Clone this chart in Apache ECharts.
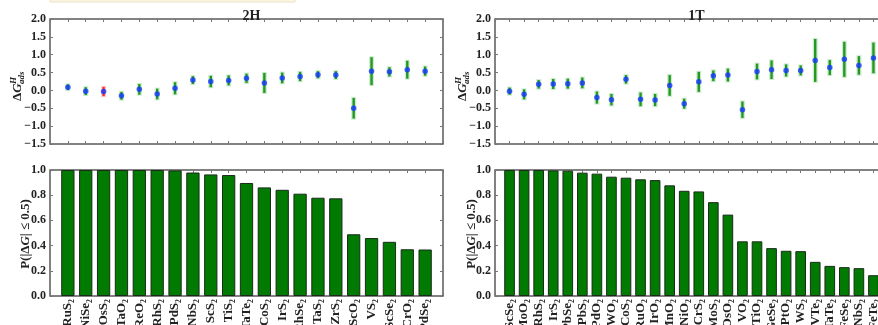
<!DOCTYPE html>
<html><head><meta charset="utf-8">
<script src="https://cdn.jsdelivr.net/npm/echarts@6/dist/echarts.min.js"></script>
<style>html,body{margin:0;padding:0;background:#fff}#c{width:878px;height:325px}</style>
</head><body><div id="c"></div>
<script>
// ---- data ----
const titles = ['2H', '1T'];
const cats2H = ['RuS₂','NiSe₂','OsS₂','TaO₂','ReO₂','RhS₂','PdS₂','NbS₂','ScS₂','TiS₂','TaTe₂','CoS₂','IrS₂','RhSe₂','TaS₂','ZrS₂','ScO₂','VS₂','ScSe₂','CrO₂','PdSe₂'];
const dG2H  = [0.09,-0.02,-0.03,-0.15,0.03,-0.10,0.06,0.29,0.25,0.28,0.34,0.21,0.35,0.39,0.44,0.43,-0.50,0.54,0.52,0.58,0.54];
const err2H = [0.08,0.11,0.13,0.11,0.15,0.15,0.17,0.11,0.16,0.14,0.13,0.28,0.15,0.13,0.10,0.11,0.29,0.39,0.13,0.25,0.13];
const prob2H = [1.0,1.0,1.0,1.0,1.0,1.0,0.997,0.98,0.965,0.96,0.897,0.862,0.843,0.812,0.78,0.775,0.49,0.46,0.43,0.371,0.369];
const highlight2H = [2];
const cats1T = ['ScSe₂','MoO₂','RhS₂','IrS₂','PbSe₂','PbS₂','PdO₂','WO₂','CoS₂','RuO₂','IrO₂','MnO₂','NiO₂','CrS₂','MoS₂','OsO₂','VO₂','TiO₂','GeSe₂','PtO₂','WS₂','VTe₂','TaTe₂','FeSe₂','NbS₂','FeTe₂'];
const dG1T  = [-0.02,-0.11,0.17,0.18,0.19,0.21,-0.20,-0.26,0.31,-0.25,-0.27,0.14,-0.37,0.24,0.41,0.43,-0.54,0.53,0.58,0.56,0.56,0.84,0.64,0.87,0.70,0.91];
const err1T = [0.10,0.14,0.12,0.14,0.14,0.15,0.17,0.16,0.12,0.19,0.17,0.29,0.14,0.28,0.15,0.18,0.23,0.22,0.26,0.17,0.14,0.60,0.21,0.49,0.26,0.43];
const prob1T = [1.0,1.0,1.0,0.997,0.995,0.979,0.971,0.947,0.939,0.926,0.92,0.878,0.835,0.83,0.745,0.646,0.434,0.434,0.38,0.359,0.356,0.271,0.239,0.229,0.221,0.165];
const highlight1T = [];
const topAxis = {min: -1.5, max: 2.0, interval: 0.5};
const botAxis = {min: 0, max: 1.0, interval: 0.2};

// ---- styles / layout ----
const SERIF = '"Liberation Serif", "DejaVu Serif", serif';
const TXT = '#222';
const FRAME = '#5a5a5a';
const panelW = 393;
const lefts = [50, 495];
const topRow = {top: 19, height: 125};
const botRow = {top: 170, height: 126};

const sets = [
  {cats: cats2H, dG: dG2H, err: err2H, prob: prob2H, hi: highlight2H},
  {cats: cats1T, dG: dG1T, err: err1T, prob: prob1T, hi: highlight1T}
];

const grids = [], xAxes = [], yAxes = [], series = [];
const fmtY = v => (Math.round(v * 10) / 10).toFixed(1).replace('-', '−');

function addGrid(left, row, n, cats, yCfg, showXLabels) {
  const g = grids.length;
  grids.push({left: left, top: row.top, width: panelW, height: row.height, show: true,
    borderColor: FRAME, borderWidth: 1.5, backgroundColor: 'transparent',
    containLabel: false, outerBoundsMode: 'none'});
  const tick = {show: true, inside: true, length: 3, lineStyle: {color: '#777', width: 1}};
  ['bottom', 'top'].forEach(pos => {
    xAxes.push({type: 'value', gridIndex: g, position: pos, min: -1, max: n, interval: 1,
      axisLine: {show: false, onZero: false}, splitLine: {show: false}, axisTick: tick,
      axisLabel: (pos === 'bottom' && showXLabels) ? {show: true, rotate: 90, margin: 3,
        fontFamily: SERIF, fontWeight: 'bold', fontSize: 13, color: TXT,
        formatter: v => (v >= 0 && v < n) ? cats[v] : ''} : {show: false}});
  });
  ['left', 'right'].forEach(pos => {
    yAxes.push({type: 'value', gridIndex: g, position: pos, min: yCfg.min, max: yCfg.max, interval: yCfg.interval,
      axisLine: {show: false, onZero: false}, splitLine: {show: false}, axisTick: tick,
      axisLabel: pos === 'left' ? {show: true, margin: 4, fontFamily: SERIF, fontWeight: 'bold',
        fontSize: 12, color: TXT, formatter: fmtY} : {show: false}});
  });
  return g;
}

sets.forEach((s, p) => {
  const n = s.cats.length;
  const gTop = addGrid(lefts[p], topRow, n, s.cats, topAxis, false);
  const gBot = addGrid(lefts[p], botRow, n, s.cats, botAxis, true);
  const unit = panelW / (n + 1);
  // error bars
  series.push({type: 'custom', xAxisIndex: 2 * gTop, yAxisIndex: 2 * gTop, z: 2,
    data: s.dG.map((v, i) => [i, v - s.err[i], v + s.err[i]]),
    renderItem: (params, api) => {
      const i = api.value(0);
      const a = api.coord([i, api.value(1)]);
      const b = api.coord([i, api.value(2)]);
      const red = s.hi.indexOf(i) >= 0;
      const col = red ? '#ff2a2a' : '#229a22';
      const halo = red ? 'rgba(255,80,80,0.28)' : 'rgba(60,170,60,0.25)';
      return {type: 'group', children: [
        {type: 'line', shape: {x1: a[0], y1: a[1] + 1, x2: b[0], y2: b[1] - 1}, style: {stroke: halo, lineWidth: 5}},
        {type: 'line', shape: {x1: a[0], y1: a[1], x2: b[0], y2: b[1]}, style: {stroke: col, lineWidth: 2.4}}
      ]};
    }});
  // points
  series.push({type: 'scatter', xAxisIndex: 2 * gTop, yAxisIndex: 2 * gTop, z: 3,
    symbol: 'circle', symbolSize: 5.5, itemStyle: {color: '#1438ff'},
    data: s.dG.map((v, i) => [i, v])});
  // bars
  series.push({type: 'bar', xAxisIndex: 2 * gBot, yAxisIndex: 2 * gBot,
    barWidth: unit * 0.8 - 1,
    itemStyle: {color: '#007a00', borderColor: '#1c2a1c', borderWidth: 1},
    data: s.prob.map((v, i) => [i, v])});
});

// axis titles and panel titles
const graphic = [];
function dGLabel(x, y) {
  return {type: 'group', x: x, y: y, rotation: Math.PI / 2, children: [
    {type: 'text', x: 0, y: 0, style: {text: '{a|Δ}{b|G}', verticalAlign: 'middle', align: 'left',
      rich: {a: {fontFamily: SERIF, fontWeight: 'bold', fontSize: 13, fill: TXT},
             b: {fontFamily: SERIF, fontWeight: 'bold', fontStyle: 'italic', fontSize: 13, fill: TXT}}}},
    {type: 'text', x: 17, y: -4, style: {text: 'H', fontFamily: SERIF, fontWeight: 'bold', fontStyle: 'italic',
      fontSize: 9, fill: TXT, verticalAlign: 'middle', align: 'left'}},
    {type: 'text', x: 17, y: 4, style: {text: 'ads', fontFamily: SERIF, fontWeight: 'bold', fontStyle: 'italic',
      fontSize: 9, fill: TXT, verticalAlign: 'middle', align: 'left'}}
  ]};
}
function pLabel(x, y) {
  return {type: 'text', x: x, y: y, rotation: Math.PI / 2, style: {
    text: 'P(|Δ{i|G}| ≤ 0.5)', align: 'center', verticalAlign: 'middle',
    fontFamily: SERIF, fontWeight: 'bold', fontSize: 13, fill: TXT,
    rich: {i: {fontFamily: SERIF, fontWeight: 'bold', fontStyle: 'italic', fontSize: 13, fill: TXT}}}};
}
graphic.push(dGLabel(18, 101), dGLabel(463, 101), pLabel(26, 234), pLabel(472, 234));
graphic.push({type: 'rect', shape: {x: 50, y: -2, width: 245, height: 4}, style: {fill: '#fbf6e4', stroke: '#ece4c4', lineWidth: 1}});

const option = {
  animation: false,
  backgroundColor: '#fff',
  title: titles.map((t, p) => ({text: t, left: lefts[p] + panelW / 2, top: 4, textAlign: 'center',
    textStyle: {fontFamily: SERIF, fontWeight: 'bold', fontSize: 14, color: TXT}})),
  grid: grids, xAxis: xAxes, yAxis: yAxes, series: series, graphic: graphic
};
const chart = echarts.init(document.getElementById('c'), null, {renderer: 'canvas'});
chart.setOption(option);
</script></body></html>
